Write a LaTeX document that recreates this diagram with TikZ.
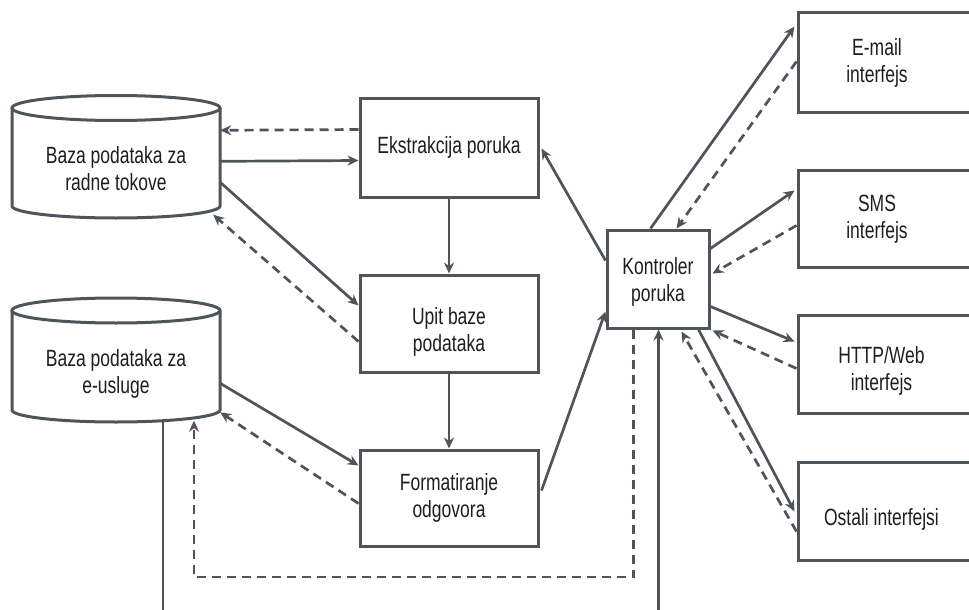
\documentclass[tikz,border=0pt]{standalone}
\usepackage{fontspec}
\setmainfont{Liberation Sans}[FakeStretch=0.745]
\usetikzlibrary{arrows.meta,calc}
\definecolor{ln}{HTML}{4F535A}
\definecolor{tx}{HTML}{1E1E1E}
\begin{document}
\begin{tikzpicture}[x=1pt,y=-1pt,
  every node/.style={font=\fontsize{23.5}{27}\selectfont, text=tx, align=center},
  box/.style={draw=ln, line width=3pt, rectangle, inner sep=0pt, fill=white},
  dbshape/.style={rectangle, inner sep=0pt, minimum width=208, minimum height=123},
  iface/.style={box, minimum width=187},
  conn/.style={draw=ln, line width=2.7pt, -{Stealth[length=11pt,width=10pt]}},
  dconn/.style={conn, dash pattern=on 9pt off 6pt},
  cyl/.style={draw=ln, line width=3pt, fill=white}
]
\useasboundingbox (0,0) rectangle (969,610);

% cylinders drawn directly
\draw[cyl] (12,108) -- (12,206) arc[start angle=180,end angle=0,x radius=104,y radius=12] -- (220,108);
\draw[cyl] (116,108) ellipse [x radius=104, y radius=12.5];
\draw[cyl] (12,310.5) -- (12,410) arc[start angle=180,end angle=0,x radius=104,y radius=12] -- (220,310.5);
\draw[cyl] (116,310.5) ellipse [x radius=104, y radius=12.5];

\node[dbshape, label={[yshift=-12pt]center:{Baza podataka za\\radne tokove}}] (db1) at (116,157) {};
\node[dbshape, label={[yshift=-14pt]center:{Baza podataka za\\e-usluge}}] (db2) at (116,360) {};

\node[box, minimum width=178, minimum height=99] (ek) at (449,147.5) {Ekstrakcija poruka};
\node[box, minimum width=178, minimum height=97, label={[yshift=-8pt]center:{Upit baze\\podataka}}] (up) at (449,323.5) {};
\node[box, minimum width=178, minimum height=96] (fo) at (449,498) {Formatiranje\\odgovora};
\node[box, minimum width=102, minimum height=98, label={[yshift=-3pt]center:{Kontroler\\poruka}}] (ko) at (658,279) {};

\node[iface, minimum height=99, label={[xshift=-14.5pt]center:{E-mail\\interfejs}}] (em) at (891.5,62.5) {};
\node[iface, minimum height=97, label={[xshift=-14.5pt,yshift=-1pt]center:{SMS\\interfejs}}] (sms) at (891.5,218.5) {};
\node[iface, minimum height=98, label={[xshift=-10pt,yshift=-7pt]center:{HTTP/Web\\interfejs}}] (http) at (891.5,364) {};
\node[iface, minimum height=98, label={[xshift=-10pt,yshift=-8pt]center:{Ostali interfejsi}}] (ost) at (891.5,511) {};

% left side
\draw[dconn] ($(ek.north west)+(0,33)$) -- ($(db1.north east)+(0,35)$);
\draw[conn] ($(db1.north east)+(0,66)$) -- ($(ek.north west)+(0,64)$);
\draw[conn] ($(db1.north east)+(0,87)$) -- ($(up.north west)+(0,32)$);
\draw[dconn] ($(up.north west)+(0,68)$) -- ($(db1.south east)+(-7,-4)$);
\draw[conn] ($(db2.north east)+(0,85)$) -- ($(fo.north west)+(0,17)$);
\draw[dconn] ($(fo.north west)+(0,55)$) -- ($(db2.north east)+(0,114)$);

\coordinate (dl) at (194,577);
\draw[dconn] ($(ko.south west)+(28,0)$) |- (dl) -- ($(db2.south)+(78,-1)$);
\draw[conn] ($(db2.south)+(47,-1)$) -- ++(0,204) -| ($(ko.south west)+(53,0)$);

% middle column
\draw[conn] (ek) -- (up);
\draw[conn] (up) -- (fo);
\draw[conn] ($(ko.north west)+(0,32)$) -- ($(ek.north east)+(2,52)$);
\draw[conn] ($(fo.north east)+(2,42)$) -- ($(ko.north west)+(0,83)$);

% right side
\draw[conn] ($(ko.north west)+(45,0)$) -- ($(em.north west)+(-2,15)$);
\draw[dconn] ($(em.north west)+(0,50)$) -- ($(ko.north west)+(71,0)$);
\draw[conn] ($(ko.north east)+(0,20)$) -- ($(sms.north west)+(-2,22)$);
\draw[dconn] ($(sms.north west)+(0,57)$) -- ($(ko.north east)+(2,45)$);
\draw[conn] ($(ko.north east)+(0,78)$) -- ($(http.north west)+(-2,28)$);
\draw[dconn] ($(http.north west)+(0,55)$) -- ($(ko.south east)+(2,1)$);
\draw[conn] ($(ko.south east)+(-12,0)$) -- ($(ost.north west)+(-2,51)$);
\draw[dconn] ($(ost.north west)+(0,71)$) -- ($(ko.south east)+(-29,2)$);
\end{tikzpicture}
\end{document}
